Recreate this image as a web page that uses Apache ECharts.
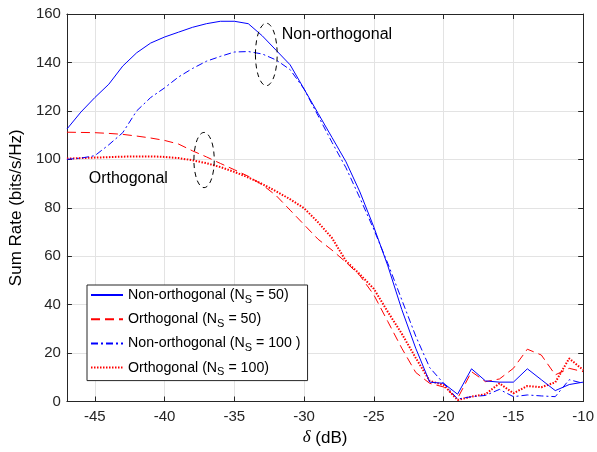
<!DOCTYPE html>
<html>
<head>
<meta charset="utf-8">
<script src="https://cdn.jsdelivr.net/npm/echarts@6/dist/echarts.min.js"></script>
<style>
html,body{margin:0;padding:0;background:#fff;}
#chart{width:597px;height:452px;}
</style>
</head>
<body>
<div id="chart"></div>
<script>
// delta (dB)
var delta = [-47,-46,-45,-44,-43,-42,-41,-40,-39,-38,-37,-36,-35,-34,-33,-32,-31,-30,-29,-28,-27,-26,-25,-24,-23,-22,-21,-20,-19,-18,-17,-16,-15,-14,-13,-12,-11,-10];
// Non-orthogonal (N_S = 50)
var nonOrth50 = [112.5,119.5,125.5,131,138.5,144,148,150.5,152.5,154.5,156,157,157,156,151,145,139,129,119,109,99,86.5,72,56,38,22,8,7.5,3,13.5,8.5,8,8,13.5,9,4.5,7,8];
// Orthogonal (N_S = 50)
var orth50 = [111.2,111.1,111,110.7,110.3,109.6,108.8,107.8,106.3,103.5,101,98.3,95.7,93,89.5,85,79,73,67,62.5,57.5,52,44,33,22,12,7.5,6,1.3,12.3,8.2,9.3,13.7,21.6,19.2,11,13.7,12.3];
// Non-orthogonal (N_S = 100)
var nonOrth100 = [100,100.5,101.5,106,111,120,125.5,129.5,134,137.5,140.5,142.5,144.3,144.5,143.5,141,137,129,118,107,96.5,84,71,57,42,27,14,7.5,1,2,2.5,5,2,2.7,2.3,2,9,7.5];
// Orthogonal (N_S = 100)
var orth100 = [100.3,100.5,100.7,100.9,101.1,101.2,101.2,101,100.5,99.6,98.4,96.8,94.8,92.5,89.8,86.8,83.5,79.8,74,67.5,58,52.5,46.5,37,28,18,8.5,6.8,0.6,2,3,7.5,3.4,6.4,5.9,7.9,17.8,13];

var seriesNames = ['Non-orthogonal (N_S = 50)','Orthogonal (N_S = 50)','Non-orthogonal (N_S = 100 )','Orthogonal (N_S = 100)'];

// annotations: [delta, value]
var ellipseCenters = [[-32.71,143.3],[-37.17,99.7]];
var ellipseRadii = [[0.78,12.9],[0.73,11.4]];
var annoTexts = ['Non-orthogonal','Orthogonal'];
var annoPos = [[-31.6,151.4],[-45.44,91.9]];

function pairs(xs, ys){ return xs.map(function(x,i){ return [x, ys[i]]; }); }

var FONT = '"Liberation Sans", Arial, Helvetica, sans-serif';
var AX = '#262626';
var chart = echarts.init(document.getElementById('chart'), null, {renderer:'canvas'});

function legendFmt(name){
  var m = name.match(/^(.*\(N)_S(.*)$/);
  return '{a|' + m[1] + '}{s|S}{a|' + m[2] + '}';
}

var option = {
  animation: false,
  backgroundColor: '#fff',
  textStyle: {fontFamily: FONT},
  grid: {left: 63, right: 13.5, top: 14, bottom: 50.5},
  legend: {
    orient: 'vertical',
    left: 87, top: 285,
    padding: [3, 7, 3, 3],
    itemWidth: 32, itemHeight: 13, itemGap: 7.2,
    backgroundColor: '#fff',
    borderColor: AX, borderWidth: 1,
    itemStyle: {opacity: 0, borderWidth: 0},
    data: seriesNames,
    formatter: legendFmt,
    textStyle: {
      fontFamily: FONT, color: '#000',
      rich: {
        a: {fontSize: 14.2, lineHeight: 20, fontFamily: FONT, color: '#000'},
        s: {fontSize: 11, lineHeight: 9, verticalAlign: 'bottom', fontFamily: FONT, color: '#000'}
      }
    }
  },
  xAxis: [{
    type: 'value', min: -47, max: -10, splitNumber: 8, minInterval: 5, maxInterval: 5,
    name: '{i|δ} (dB)', nameLocation: 'middle', nameGap: 24,
    nameTextStyle: {fontSize: 17, color: '#000', fontFamily: FONT,
      rich: {i: {fontSize: 17, fontStyle: 'italic', fontFamily: '"Liberation Serif", "Times New Roman", serif', color: '#000'}}},
    axisLine: {show: true, onZero: false, lineStyle: {color: AX, width: 1}},
    axisTick: {show: true, inside: true, length: 5, lineStyle: {color: AX}},
    axisLabel: {fontSize: 15, color: AX, margin: 8, fontFamily: FONT,
      formatter: function(v){ return (Math.abs(v % 5) < 1e-9) ? String(v) : ''; }},
    splitLine: {show: true, lineStyle: {color: '#e3e3e3', width: 1}}
  },{
    type: 'value', position: 'top', min: -47, max: -10, splitNumber: 8, minInterval: 5, maxInterval: 5,
    axisLine: {show: true, onZero: false, lineStyle: {color: AX, width: 1}},
    axisTick: {show: true, inside: true, length: 5, lineStyle: {color: AX}},
    axisLabel: {show: false}, splitLine: {show: false}
  }],
  yAxis: [{
    type: 'value', min: 0, max: 160, interval: 20,
    name: 'Sum Rate (bits/s/Hz)', nameLocation: 'middle', nameGap: 38, nameRotate: 90,
    nameTextStyle: {fontSize: 17, color: '#000', fontFamily: FONT},
    axisLine: {show: true, onZero: false, lineStyle: {color: AX, width: 1}},
    axisTick: {show: true, inside: true, length: 5, lineStyle: {color: AX}},
    axisLabel: {fontSize: 15, color: AX, margin: 6, fontFamily: FONT},
    splitLine: {show: true, lineStyle: {color: '#e3e3e3', width: 1}}
  },{
    type: 'value', position: 'right', min: 0, max: 160, interval: 20,
    axisLine: {show: true, onZero: false, lineStyle: {color: AX, width: 1}},
    axisTick: {show: true, inside: true, length: 5, lineStyle: {color: AX}},
    axisLabel: {show: false}, splitLine: {show: false}
  }],
  series: [
    {name: seriesNames[0], type: 'line', symbol: 'none', data: pairs(delta, nonOrth50),
     color: '#0000ff', lineStyle: {color: '#0000ff', width: 1, type: 'solid'}, z: 4},
    {name: seriesNames[1], type: 'line', symbol: 'none', data: pairs(delta, orth50),
     color: '#ff0000', lineStyle: {color: '#ff0000', width: 1, type: [9,5]}, z: 3},
    {name: seriesNames[2], type: 'line', symbol: 'none', data: pairs(delta, nonOrth100),
     color: '#0000ff', lineStyle: {color: '#0000ff', width: 1, type: [7,3,2,3]}, z: 4},
    {name: seriesNames[3], type: 'line', symbol: 'none', data: pairs(delta, orth100),
     color: '#ff0000', lineStyle: {color: '#ff0000', width: 2, type: [1.5,1.5]}, z: 3},
    {name: 'ellipses', type: 'custom', z: 5, silent: true,
     data: ellipseCenters.map(function(c,i){ return [c[0], c[1], ellipseRadii[i][0], ellipseRadii[i][1]]; }),
     renderItem: function(params, api){
       var p = api.coord([api.value(0), api.value(1)]);
       var s = api.size([api.value(2), api.value(3)]);
       return {type: 'ellipse', shape: {cx: p[0], cy: p[1], rx: s[0], ry: s[1]},
               style: {fill: 'none', stroke: '#000', lineWidth: 1, lineDash: [5,4]}};
     }},
    {name: 'labels', type: 'custom', z: 5, silent: true,
     data: annoPos.map(function(p,i){ return [p[0], p[1], i]; }),
     renderItem: function(params, api){
       var p = api.coord([api.value(0), api.value(1)]);
       return {type: 'text', x: p[0], y: p[1],
               style: {text: annoTexts[api.value(2)], fontSize: 16, fontFamily: FONT, fill: '#000',
                       textAlign: 'left', textVerticalAlign: 'middle'}};
     }}
  ]
};
chart.setOption(option);
</script>
</body>
</html>
